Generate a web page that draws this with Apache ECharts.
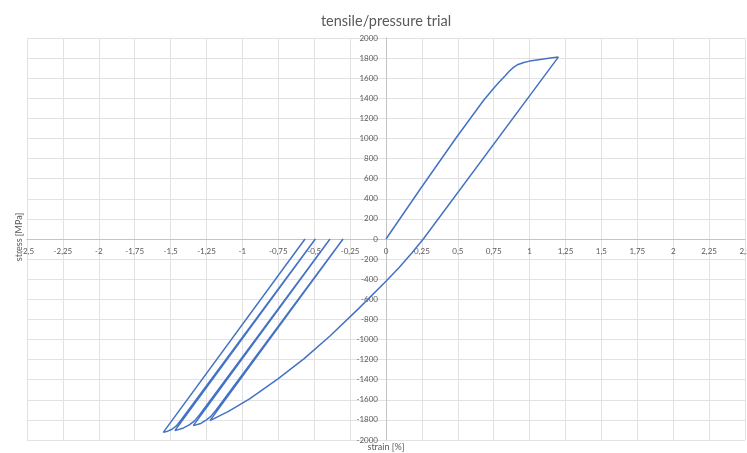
<!DOCTYPE html>
<html>
<head>
<meta charset="utf-8">
<script src="https://cdn.jsdelivr.net/npm/echarts@6/dist/echarts.min.js"></script>
<style>
html,body{margin:0;padding:0;background:#ffffff;}
#chart{width:747px;height:453px;}
</style>
</head>
<body>
<div id="chart"></div>
<script>
// Tension loading from origin to peak
const loadStrain = [0, 0.24, 0.49, 0.68, 0.75, 0.79, 0.83, 0.86, 0.89, 0.92, 0.96, 1.0, 1.05, 1.12, 1.2];
const loadStress = [0, 500, 1010, 1380, 1500, 1565, 1625, 1672, 1710, 1737, 1757, 1770, 1781, 1795, 1810];
// Unloading from tension peak into first compression tip
const reverseStrain = [1.2, 0.26, 0.18, 0.09, 0, -0.2, -0.39, -0.57, -0.75, -0.95, -1.1, -1.226];
const reverseStress = [1810, 0, -140, -285, -420, -705, -965, -1190, -1390, -1590, -1718, -1807];
// Compression cycle 1: unload to zero, reload to next tip
const cycle1Strain = [-0.299, -0.311, -1.183, -1.22, -1.25, -1.29, -1.342];
const cycle1Stress = [0, 0, -1700, -1765, -1800, -1835, -1857];
// Compression cycle 2
const cycle2Strain = [-0.390, -0.402, -1.299, -1.335, -1.37, -1.41, -1.47];
const cycle2Stress = [0, 0, -1750, -1812, -1850, -1880, -1907];
// Compression cycle 3
const cycle3Strain = [-0.492, -0.504, -1.427, -1.46, -1.49, -1.52, -1.551];
const cycle3Stress = [0, 0, -1800, -1860, -1893, -1912, -1924];
// Final unloading
const finalStrain = [-0.564];
const finalStress = [0];

const segments = [
  [loadStrain, loadStress],
  [reverseStrain, reverseStress],
  [cycle1Strain, cycle1Stress],
  [cycle2Strain, cycle2Stress],
  [cycle3Strain, cycle3Stress],
  [finalStrain, finalStress]
];
const points = [];
segments.forEach(function (s) {
  for (let i = 0; i < s[0].length; i++) points.push([s[0][i], s[1][i]]);
});

const FONT = 'Lato, "Liberation Sans", sans-serif';
const TXT = '#595959';

const chart = echarts.init(document.getElementById('chart'), null, {renderer: 'canvas'});
chart.setOption({
  animation: false,
  backgroundColor: '#ffffff',
  title: {
    text: 'tensile/pressure trial',
    left: 381,
    top: 9,
    textAlign: 'center',
    textStyle: {fontSize: 14.5, fontWeight: 'normal', color: TXT, fontFamily: FONT}
  },
  grid: {left: 27, right: 2, top: 38, bottom: 13, containLabel: false, outerBoundsMode: 'none'},
  graphic: [
    {
      type: 'text', x: 386, y: 447,
      style: {text: 'strain [%]', align: 'center', verticalAlign: 'middle',
              fontSize: 9, fill: TXT, fontFamily: FONT}
    },
    {
      type: 'text', x: 19, y: 237, rotation: Math.PI / 2,
      style: {text: 'stress [MPa]', align: 'center', verticalAlign: 'middle',
              fontSize: 9, fill: TXT, fontFamily: FONT}
    }
  ],
  xAxis: {
    type: 'value',
    position: 'bottom',
    offset: -201,
    min: -2.5, max: 2.5, interval: 0.25,
    axisLine: {onZero: false, lineStyle: {color: '#c4c4c4', width: 1}},
    axisTick: {show: false},
    axisLabel: {
      fontSize: 8, color: TXT, fontFamily: FONT, margin: 8,
      formatter: function (v) { return String(Math.round(v * 100) / 100).replace('.', ','); }
    },
    splitLine: {show: true, lineStyle: {color: '#e2e2e2', width: 1}}
  },
  yAxis: {
    type: 'value',
    position: 'left',
    offset: -359,
    min: -2000, max: 2000, interval: 200,
    axisLine: {onZero: false, lineStyle: {color: '#c4c4c4', width: 1}},
    axisTick: {show: false},
    axisLabel: {
      fontSize: 8, color: TXT, fontFamily: FONT, margin: 8,
      formatter: function (v) { return String(v); }
    },
    splitLine: {show: true, lineStyle: {color: '#e2e2e2', width: 1}}
  },
  series: [{
    type: 'line',
    data: points,
    showSymbol: false,
    symbol: 'none',
    smooth: false,
    lineStyle: {color: '#4472C4', width: 1.5},
    itemStyle: {color: '#4472C4'}
  }]
});
</script>
</body>
</html>
